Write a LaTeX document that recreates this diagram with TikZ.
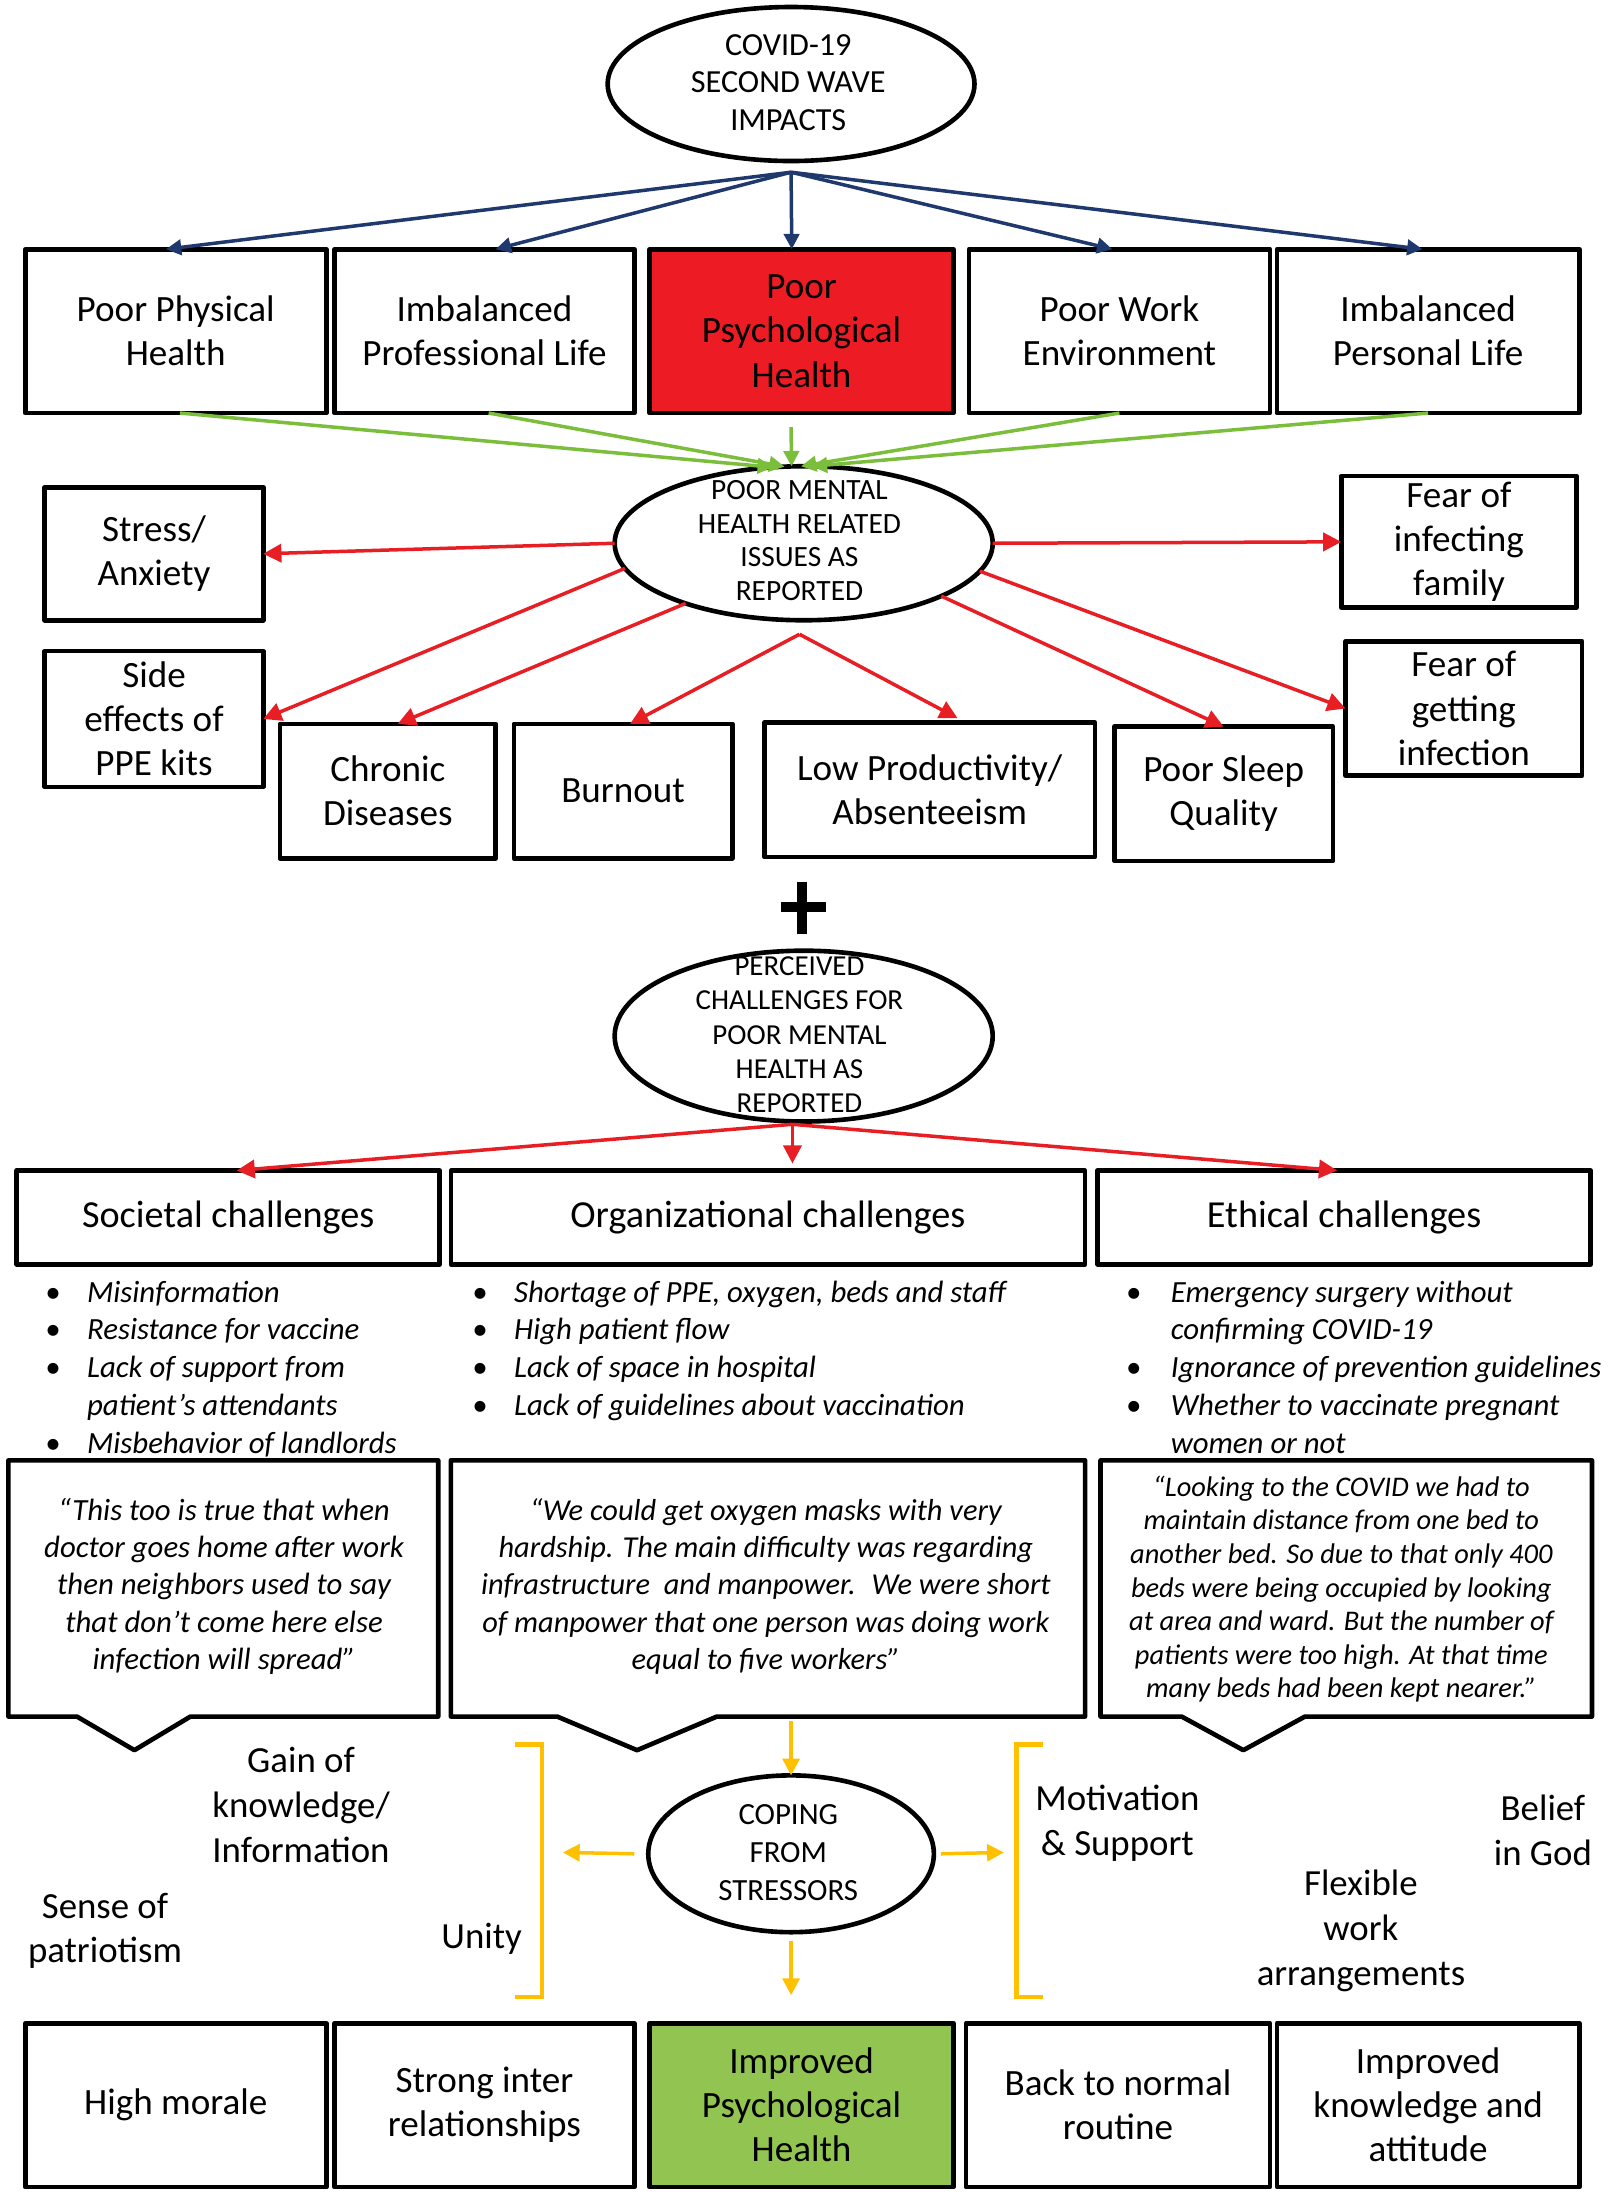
\documentclass[tikz,border=0pt]{standalone}
\usepackage{fontspec}
\setmainfont{Carlito}
\usetikzlibrary{arrows.meta,shapes.geometric,calc}
\definecolor{navy}{RGB}{31,56,110}
\definecolor{rred}{RGB}{232,30,37}
\definecolor{boxred}{RGB}{237,28,36}
\definecolor{lgreen}{RGB}{122,190,60}
\definecolor{boxgreen}{RGB}{146,196,82}
\definecolor{ylw}{RGB}{255,192,0}
\newcommand\myfs[2]{\fontsize{#1}{#2}\selectfont}
\begin{document}
\begin{tikzpicture}[x=1pt,y=-1pt,
  bx/.style={draw, line width=3.3pt, line join=round, inner sep=0pt, outer sep=0pt, align=center, font=\myfs{26.5}{31.5}},
  hbx/.style={draw, line width=3.3pt, line join=round, inner sep=0pt, outer sep=0pt, align=center, font=\myfs{27.3}{32}},
  ell/.style={draw, ellipse, line width=3.3pt, inner sep=0pt, outer sep=0pt},
  etext/.style={align=center, inner sep=0pt},
  lbl/.style={align=center, inner sep=0pt, font=\myfs{26.3}{32}},
  quote/.style={align=center, inner sep=0pt, font=\itshape\myfs{22}{26.7}},
  blist/.style={inner sep=0pt, anchor=base west, font=\itshape\myfs{22}{27}},
  callout/.style={draw, line width=3.3pt, line join=round},
  barrow/.style={draw=navy, line width=2.5pt, -{Triangle[length=11pt,width=11pt]}},
  garrow/.style={draw=lgreen, line width=2.5pt, -{Triangle[length=11pt,width=11pt]}},
  rarrow/.style={draw=rred, line width=2.5pt, -{Triangle[length=13pt,width=13pt]}},
  yarrow/.style={draw=ylw, line width=2.5pt, -{Triangle[length=12pt,width=12pt]}},
  brk/.style={draw=ylw, line width=3pt}
]
\useasboundingbox (0,0) rectangle (1150,1567);

% ---------- top ellipse ----------
\node[ell, minimum width=262, minimum height=110] (e1) at (565,60) {};
\node[etext, font=\myfs{23}{27}] (e1t) at (563,59) {COVID-19\\SECOND WAVE\\IMPACTS};
\coordinate (bsrc) at (565,123);

% ---------- row 1 ----------
\node[bx, minimum width=215, minimum height=117] (b1) at (125.5,236.5) {Poor Physical\\Health};
\node[bx, minimum width=214, minimum height=117] (b2) at (346,236.5) {Imbalanced\\Professional Life};
\node[bx, fill=boxred, minimum width=217, minimum height=117] (b3) at (572.5,236.5) {Poor\\Psychological\\Health};
\node[bx, minimum width=215, minimum height=117] (b4) at (799.5,236.5) {Poor Work\\Environment};
\node[bx, minimum width=216, minimum height=117] (b5) at (1020,236.5) {Imbalanced\\Personal Life};

\draw[barrow] (bsrc) -- ([xshift=-7pt]b1.north);
\draw[barrow] (bsrc) -- ([xshift=8pt]b2.north);
\draw[barrow] (bsrc) -- ([xshift=-7pt]b3.north);
\draw[barrow] (bsrc) -- ([xshift=-5pt]b4.north);
\draw[barrow] (bsrc) -- ([xshift=-4pt]b5.north);

% ---------- ellipse 2 ----------
\node[ell, minimum width=270, minimum height=110] (e2) at (574,388) {};
\node[etext, font=\myfs{21}{24}] (e2t) at (571,386) {POOR MENTAL\\HEALTH RELATED\\ISSUES AS\\REPORTED};

\coordinate (g3) at (565,305);
\draw[garrow] ([xshift=3pt]b1.south) -- (e2.112);
\draw[garrow] ([xshift=3pt]b2.south) -- (e2.104);
\draw[garrow] (g3) -- (e2.99);
\draw[garrow] (b4.south) -- (e2.92);
\draw[garrow] (b5.south) -- (e2.84);

% ---------- issue boxes ----------
\node[bx, minimum width=156, minimum height=95] (st) at (110,395.5) {Stress/\\Anxiety};
\node[bx, minimum width=156, minimum height=97] (se) at (110,513.5) {Side\\effects of\\PPE kits};
\node[bx, minimum width=168, minimum height=94] (fi) at (1042,387) {Fear of\\infecting\\family};
\node[bx, minimum width=169, minimum height=96] (fg) at (1045.5,506) {Fear of\\getting\\infection};
\node[bx, minimum width=154, minimum height=96] (cd) at (277,565) {Chronic\\Diseases};
\node[bx, minimum width=156, minimum height=96] (bo) at (445,565) {Burnout};
\node[bx, minimum width=236, minimum height=96] (lp) at (664,564) {Low Productivity/\\Absenteeism};
\node[bx, minimum width=156, minimum height=96] (ps) at (874,567) {Poor Sleep\\Quality};

\coordinate (apex) at (571,453);
\draw[rarrow] (e2.180) -- (st.east);
\draw[rarrow] (e2.0) -- (fi.west);
\draw[rarrow] (e2.188) -- (se.east);
\draw[rarrow] (e2.207) -- ([xshift=7pt]cd.north);
\draw[rarrow] (apex) -- ([xshift=5pt]bo.north);
\draw[rarrow] (apex) -- ([xshift=20pt,yshift=3pt]lp.north);
\draw[rarrow] (e2.339) -- (ps.north);
\draw[rarrow] (e2.351) -- (fg.west);

% ---------- plus ----------
\draw[line width=7pt] (573,630) -- (573,667);
\draw[line width=7pt] (558,648) -- (590,648);

% ---------- ellipse 3 ----------
\node[ell, minimum width=270, minimum height=122] (e3) at (574,740) {};
\node[etext, font=\myfs{20.7}{24.5}] (e3t) at (571,739) {PERCEIVED\\CHALLENGES FOR\\POOR MENTAL\\HEALTH AS\\REPORTED};
\coordinate (r3) at (566,803);

% ---------- challenge boxes ----------
\node[hbx, minimum width=302, minimum height=67] (sc) at (163,869.5) {Societal challenges};
\node[hbx, minimum width=453, minimum height=67] (oc) at (548.5,869.5) {Organizational challenges};
\node[hbx, minimum width=352, minimum height=67] (ec) at (960,869.5) {Ethical challenges};

\draw[rarrow] (r3) -- ([xshift=6pt]sc.north);
\draw[rarrow] (r3) -- ([xshift=17.5pt,yshift=5pt]oc.north);
\draw[rarrow] (r3) -- ([xshift=-5pt]ec.north);

% ---------- bullet lists ----------
\node[blist] (l1) at (32,930) {\begin{tabular}[t]{@{}p{30pt}@{}l@{}}
\textbullet & Misinformation\\
\textbullet & Resistance for vaccine\\
\textbullet & Lack of support from\\
 & patient’s attendants\\
\textbullet & Misbehavior of landlords
\end{tabular}};
\node[blist] (l2) at (337,930) {\begin{tabular}[t]{@{}p{30pt}@{}l@{}}
\textbullet & Shortage of PPE, oxygen, beds and staff\\
\textbullet & High patient flow\\
\textbullet & Lack of space in hospital\\
\textbullet & Lack of guidelines about vaccination
\end{tabular}};
\node[blist] (l3) at (804,930) {\begin{tabular}[t]{@{}p{32pt}@{}l@{}}
\textbullet & Emergency surgery without\\
 & confirming COVID-19\\
\textbullet & Ignorance of prevention guidelines\\
\textbullet & Whether to vaccinate pregnant\\
 & women or not
\end{tabular}};

% ---------- callouts ----------
\draw[callout] (6,1043) -- (313,1043) -- (313,1226) -- (136,1226) -- (96,1250) -- (55,1226) -- (6,1226) -- cycle;
\draw[callout] (322,1043) -- (775,1043) -- (775,1226) -- (512,1226) -- (455,1250) -- (398,1226) -- (322,1226) -- cycle;
\draw[callout] (786,1043) -- (1137,1043) -- (1137,1226) -- (932,1226) -- (888,1250) -- (844,1226) -- (786,1226) -- cycle;

\node[quote] (q1) at (160,1133) {“This too is true that when\\doctor goes home after work\\then neighbors used to say\\that don’t come here else\\infection will spread”};
\node[quote, font=\itshape\myfs{21.7}{26.7}] (q2) at (547,1133) {“We could get oxygen masks with very\\hardship. The main difficulty was regarding\\infrastructure \ and manpower. \ We were short\\of manpower that one person was doing work\\equal to five workers”};
\node[quote, font=\itshape\myfs{20.3}{24}] (q3) at (958,1135) {“Looking to the COVID we had to\\maintain distance from one bed to\\another bed. So due to that only 400\\beds were being occupied by looking\\at area and ward. But the number of\\patients were too high. At that time\\many beds had been kept nearer.”};

% ---------- coping ----------
\node[ell, minimum width=204, minimum height=112] (e4) at (565,1324) {};
\node[etext, font=\myfs{22}{27}] (e4t) at (563,1323) {COPING\\FROM\\STRESSORS};

\coordinate (ytop) at (565,1229);
\coordinate (ybot) at (565,1425);
\coordinate (yl) at (402,1323);
\coordinate (yr) at (717,1323);
\draw[yarrow] (ytop) -- (e4.north);
\draw[yarrow] ([yshift=-6pt]e4.south) -- (ybot);
\draw[yarrow] ([xshift=-10pt]e4.west) -- (yl);
\draw[yarrow] ([xshift=5pt]e4.east) -- (yr);

\draw[brk] (368,1246) -- (387,1246) -- (387,1426) -- (368,1426);
\draw[brk] (745,1246) -- (726,1246) -- (726,1426) -- (745,1426);

\node[lbl] (t1) at (215,1289) {Gain of\\knowledge/\\Information};
\node[lbl] (t2) at (75,1379) {Sense of\\patriotism};
\node[lbl] (t3) at (344,1385) {Unity};
\node[lbl] (t4) at (798,1302) {Motivation\\\& Support};
\node[lbl] (t5) at (1102,1307) {Belief\\in God};
\node[lbl] (t6) at (972,1379) {Flexible\\work\\arrangements};

% ---------- bottom row ----------
\node[bx, minimum width=215, minimum height=117] (c1) at (125.5,1503.5) {High morale};
\node[bx, minimum width=214, minimum height=117] (c2) at (346,1503.5) {Strong inter\\relationships};
\node[bx, fill=boxgreen, minimum width=217, minimum height=117] (c3) at (572.5,1503.5) {Improved\\Psychological\\Health};
\node[bx, minimum width=217, minimum height=117] (c4) at (798.5,1503.5) {Back to normal\\routine};
\node[bx, minimum width=216, minimum height=117] (c5) at (1020,1503.5) {Improved\\knowledge and\\attitude};
\end{tikzpicture}
\end{document}
